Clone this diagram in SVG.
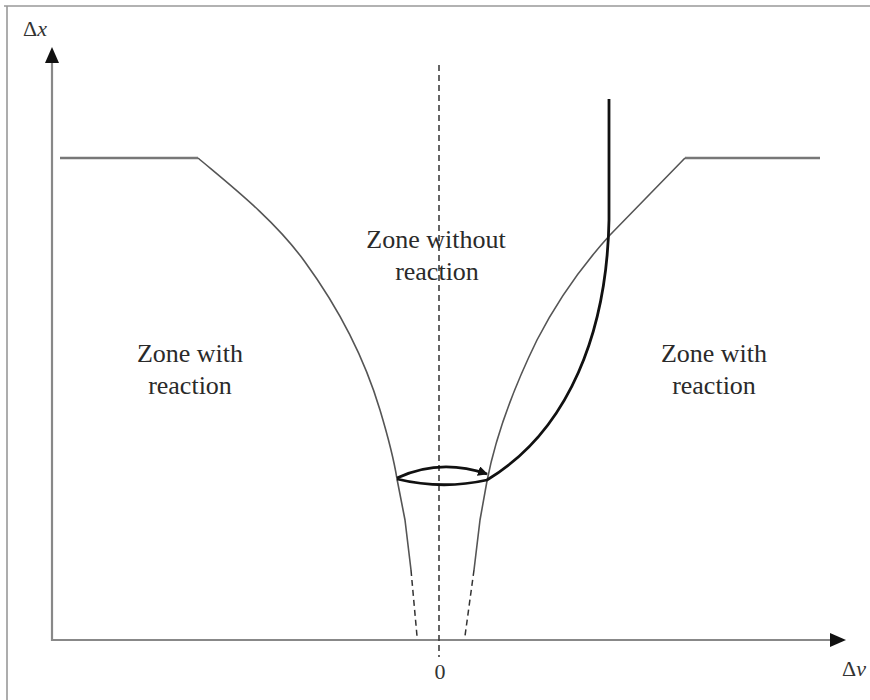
<svg xmlns="http://www.w3.org/2000/svg" width="870" height="700" viewBox="0 0 870 700">
<style>
.frame{stroke:#999;stroke-width:1.6;fill:none}
.axis{stroke:#888;stroke-width:2.2;fill:none}
.bound{stroke:#555;stroke-width:1.6;fill:none;stroke-linejoin:round}
.flat{stroke:#777;stroke-width:2.4;fill:none}
.dash{stroke:#333;stroke-width:1.5;fill:none;stroke-dasharray:6,4}
.traj{stroke:#111;stroke-width:2.8;fill:none}
.lbl{font-family:"Liberation Serif","Times New Roman",serif;font-size:26px;fill:#2a2a2a;text-anchor:middle}
.ax{font-family:"Liberation Serif","Times New Roman",serif;font-size:22px;fill:#333}
</style>
<defs>
<marker id="ah" markerWidth="10" markerHeight="10" refX="9" refY="5" orient="auto" markerUnits="userSpaceOnUse">
<path d="M0,0 L10,5 L0,10 z" fill="#111"/>
</marker>
</defs>
<g id="frame">
<line class="frame" x1="4" y1="6" x2="870" y2="6"/>
<line class="frame" x1="7" y1="6" x2="7" y2="700"/>
</g>
<g id="axes">
<line class="axis" x1="52" y1="641" x2="52" y2="62"/>
<polygon points="52,47 45,63 59,63" fill="#111"/>
<line class="axis" x1="52" y1="640" x2="832" y2="640"/>
<polygon points="846,640 830,633 830,647" fill="#111"/>
<line class="dash" x1="439" y1="65" x2="439" y2="657"/>
</g>
<g id="left-boundary">
<path class="flat" d="M60,158 L198,158"/>
<path class="bound" d="M198,158 C230,185 275,220 305,262 C340,310 365,360 380,410 C389,440 394,460 397,479 L405,520 L411,570"/>
<path class="dash" d="M411,570 L417,636"/>
</g>
<g id="right-boundary">
<path class="flat" d="M820,158 L685,158"/>
<path class="bound" d="M685,158 L610,235 C580,268 555,305 537,340 C515,385 497,430 487,481 L480,520 L474,570"/>
<path class="dash" d="M474,570 L465,636"/>
</g>
<g id="trajectory">
<path class="traj" d="M609,99 L609,220 C607,330 570,430 487,480 Q442,490 397,479"/>
<path class="traj" d="M397,478 Q440,458 487,474" marker-end="url(#ah)"/>
</g>
<g id="labels">
<text class="lbl" x="436" y="248">Zone without</text>
<text class="lbl" x="437" y="280">reaction</text>
<text class="lbl" x="190" y="362">Zone with</text>
<text class="lbl" x="190" y="394">reaction</text>
<text class="lbl" x="714" y="362">Zone with</text>
<text class="lbl" x="714" y="394">reaction</text>
<text class="ax" x="23" y="36">Δ<tspan font-style="italic">x</tspan></text>
<text class="ax" x="842" y="676">Δ<tspan font-style="italic">v</tspan></text>
<text class="ax" x="440" y="679" text-anchor="middle" font-size="15">0</text>
</g>
</svg>
